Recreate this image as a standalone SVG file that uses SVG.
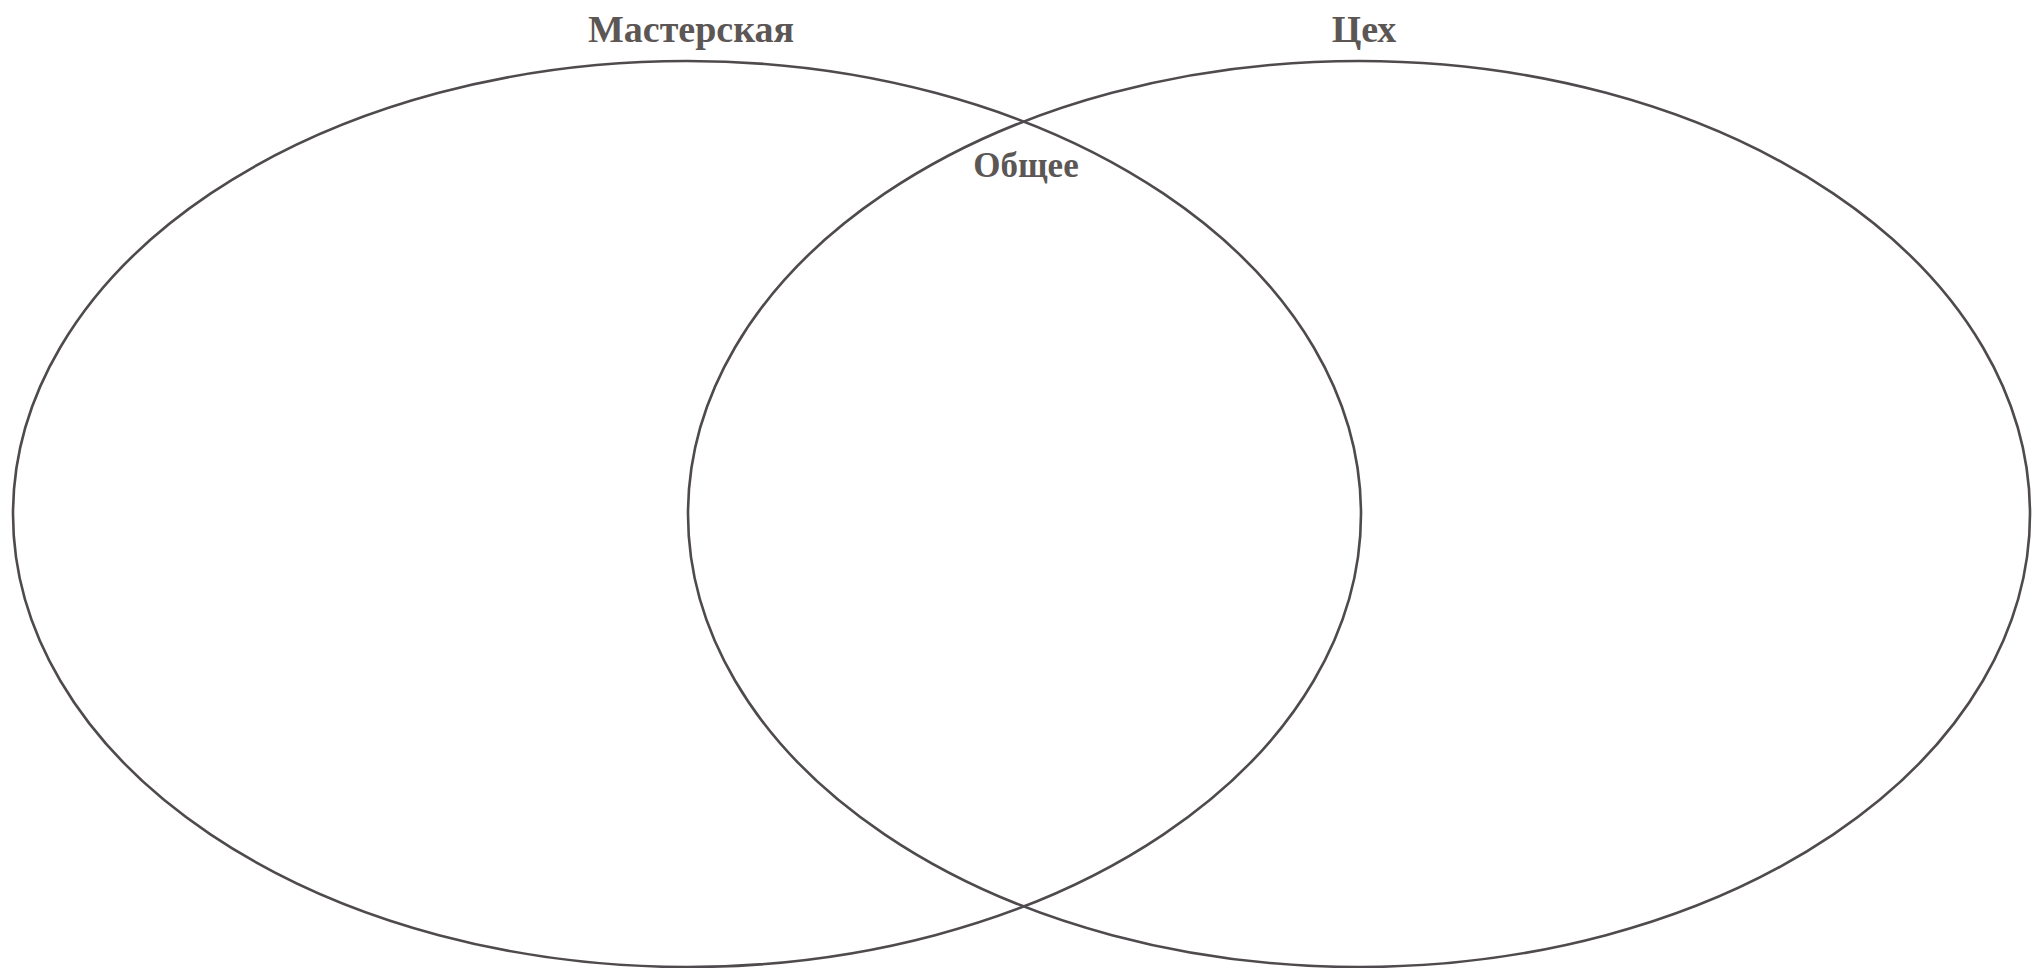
<svg xmlns="http://www.w3.org/2000/svg" width="2032" height="968" viewBox="0 0 2032 968">
<style>
.set{fill:none;stroke:#4f4a4e;stroke-width:2.6}
.lbl{font-family:"Liberation Serif","Times New Roman",serif;font-weight:bold;fill:#5c5755;text-anchor:middle}
</style>
<rect width="2032" height="968" fill="#ffffff"/>
<g id="set-masterskaya">
<ellipse class="set" cx="687" cy="514" rx="674" ry="453"/>
<text class="lbl" x="691" y="42" font-size="38">Мастерская</text>
</g>
<g id="set-tseh">
<ellipse class="set" cx="1359" cy="514" rx="671" ry="453"/>
<text class="lbl" x="1364" y="42" font-size="38">Цех</text>
</g>
<g id="common">
<text class="lbl" x="1026" y="177" font-size="35">Общее</text>
</g>
<g id="connectors"/>
</svg>
